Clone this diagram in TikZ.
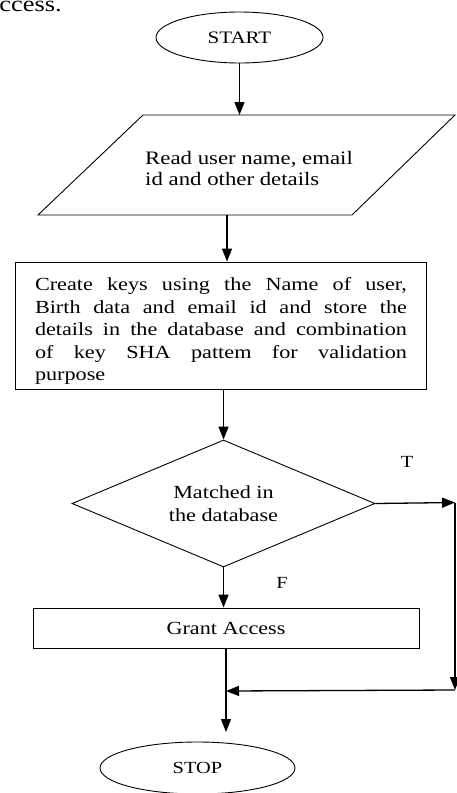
\documentclass[tikz,border=0pt]{standalone}
\usepackage{fontspec}
\setmainfont{Liberation Serif}[FakeStretch=1.2]
\usetikzlibrary{shapes.geometric,arrows.meta}
\tolerance=10000
\hbadness=10000
\begin{document}
\begin{tikzpicture}[x=1pt,y=-1pt,
  bord/.style={draw,line width=0.9pt,inner sep=0pt},
  arr/.style={line width=1.3pt,-{Triangle[length=13pt,width=10pt]}},
  txt/.style={inner sep=0pt,font=\fontsize{18.5}{22.5}\selectfont},
]
\useasboundingbox (0,0) rectangle (457,793);
\clip (0,0) rectangle (457,793);
% fragment of the surrounding page text
\node[inner sep=0pt,anchor=base east,font=\fontsize{22}{26}\selectfont] (frag) at (62,11) {ccess.};
% start
\node[bord,ellipse,minimum width=167pt,minimum height=51pt,font=\fontsize{17.5}{20}\selectfont] (start) at (239.5,37.5) {START};
% input parallelogram
\coordinate (r1) at (143,115);
\coordinate (r2) at (455,115);
\coordinate (r3) at (352,215);
\coordinate (r4) at (38,215);
\draw[line width=0.9pt] (r1) -- (r2) -- (r3) -- (r4) -- cycle;
\node[txt,anchor=west,align=left,font=\fontsize{19}{21}\selectfont] (read) at (145,168) {Read user name, email\\id and other details};
\coordinate (readout) at (227,215);
% process box
\node[bord,minimum width=411pt,minimum height=127pt] (keys) at (220.5,325.5) {};
\node[txt,text width=372pt,align=justify] (keystext) at (221,331) {Create keys using the Name of user,\linebreak Birth data and email id and store the\linebreak details in the database and combination\linebreak of key SHA pattem for validation\linebreak purpose};
% decision
\node[bord,diamond,aspect=2.4,minimum width=303pt,minimum height=127pt,align=center,font=\fontsize{18.5}{23}\selectfont] (match) at (223.5,503.5) {Matched in\\the database};
\node[txt,font=\fontsize{17}{20}\selectfont] (tl) at (407,462) {T};
\node[txt,font=\fontsize{17}{20}\selectfont] (fl) at (282,583) {F};
% grant
\node[bord,minimum width=386pt,minimum height=40pt,font=\fontsize{18.5}{22}\selectfont] (grant) at (226,628) {Grant Access};
% stop
\node[bord,ellipse,minimum width=195pt,minimum height=52pt,font=\fontsize{17}{20}\selectfont] (stop) at (197.5,768) {STOP};
% helper coordinates
\coordinate (rt) at (455,502.5);
\coordinate (rb) at (455,690);
\coordinate (join) at (226,691);
\coordinate (stopin) at (226,732);
% connectors
\draw[arr] (start) -- (start |- r1);
\draw[arr] (readout) -- (readout |- keys.north);
\draw[arr] (keys.south -| match) -- (match.north);
\draw[arr] (match.south) -- (match.south |- grant.north);
\draw[arr] (match.east) -- (rt);
\draw[arr] (rt) -- (rb);
\draw[arr] (rb) -- (join);
\draw[arr] (grant.south -| join) -- (stopin);
\end{tikzpicture}
\end{document}
